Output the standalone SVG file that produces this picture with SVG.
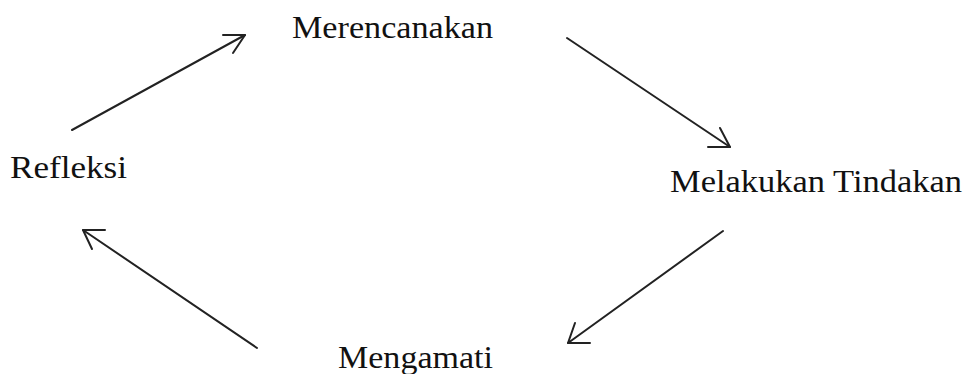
<svg xmlns="http://www.w3.org/2000/svg" width="968" height="374" viewBox="0 0 968 374">
<style>
text{font-family:"Liberation Serif","Times New Roman",serif;font-size:32px;fill:#111}
.c line,.c polyline{stroke:#222;stroke-width:2;fill:none;stroke-linecap:round;stroke-linejoin:round}
</style>
<rect width="968" height="374" fill="#fff"/>
<g id="merencanakan"><text x="292" y="38" textLength="201" lengthAdjust="spacingAndGlyphs">Merencanakan</text></g>
<g id="melakukan"><text x="670" y="192" textLength="292" lengthAdjust="spacingAndGlyphs">Melakukan Tindakan</text></g>
<g id="mengamati"><text x="338" y="368" textLength="155" lengthAdjust="spacingAndGlyphs">Mengamati</text></g>
<g id="refleksi"><text x="10" y="178" textLength="117" lengthAdjust="spacingAndGlyphs">Refleksi</text></g>
<g class="c" id="connectors">
<line x1="72" y1="130" x2="245" y2="35"/><polyline points="223,35 245,35 233,53"/>
<line x1="567" y1="38" x2="730" y2="147"/><polyline points="720,128 730,147 708,147"/>
<line x1="723" y1="231" x2="568" y2="343"/><polyline points="575,323 568,343 590,343"/>
<line x1="257" y1="348" x2="83" y2="230"/><polyline points="105,230 83,230 92,249"/>
</g>
</svg>
